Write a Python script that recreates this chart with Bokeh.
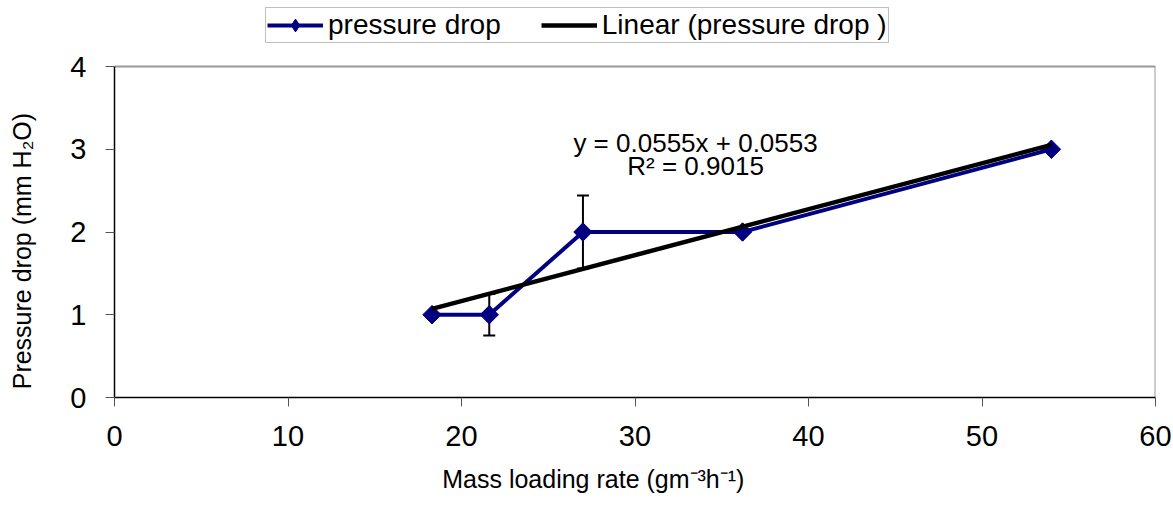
from bokeh.plotting import figure
from bokeh.models import (ColumnDataSource, Whisker, TeeHead, Legend, LegendItem,
                          Label, FixedTicker, Range1d)
from bokeh.embed import file_html
from bokeh.resources import INLINE
import numpy as np

# ---- data ----
mass_loading = [18.3, 21.6, 27.0, 36.2, 54.0]
pressure_drop = [1.0, 1.0, 2.0, 2.0, 3.0]
error = [0.0, 0.25, 0.44, 0.0, 0.0]
trend_slope = 0.0555
trend_intercept = 0.0553
r_squared = 0.9015
x_ticks = [0, 10, 20, 30, 40, 50, 60]
y_ticks = [0, 1, 2, 3, 4]
x_title = "Mass loading rate (gm\u207b\u00b3h\u207b\u00b9)"
y_title = "Pressure drop (mm H\u2082O)"

FONT = "Liberation Sans"
NAVY = "#000080"
NBSP = "\u00a0"

# plot box is 331 px tall for 0..4; frame extended upwards by 66 px to hold the legend
PLOT_H, TOP_PAD = 331, 66
y_top = y_ticks[-1] * (PLOT_H + TOP_PAD) / PLOT_H

p = figure(frame_width=1041, frame_height=PLOT_H + TOP_PAD, output_backend="svg",
           toolbar_location=None, x_range=Range1d(x_ticks[0], x_ticks[-1]),
           y_range=Range1d(y_ticks[0], y_top),
           min_border_left=114, min_border_right=18, min_border_top=0,
           min_border_bottom=108, background_fill_color="white",
           border_fill_color="white")
p.grid.visible = False
p.outline_line_color = None

for ax in (p.xaxis[0], p.yaxis[0]):
    ax.axis_line_color = "black"
    ax.axis_line_width = 1.5
    ax.major_tick_line_color = "#555555"
    ax.major_tick_out = 9
    ax.major_tick_in = 0
    ax.minor_tick_line_color = None
    ax.major_label_text_font = FONT
    ax.major_label_text_font_size = "29px"
    ax.major_label_text_color = "black"
    ax.major_label_standoff = 19
    ax.axis_label_text_font = FONT
    ax.axis_label_text_font_size = "25px"
    ax.axis_label_text_font_style = "normal"
    ax.axis_label_text_color = "black"

p.xaxis.ticker = FixedTicker(ticks=x_ticks)
p.yaxis.ticker = FixedTicker(ticks=y_ticks)
p.yaxis.bounds = (y_ticks[0], y_ticks[-1])

# axis titles: trailing no-break spaces shift them off-centre as in the reference
p.xaxis.axis_label = x_title + NBSP * 12
p.yaxis.axis_label = y_title + NBSP * 15
p.xaxis.axis_label_standoff = 16
p.yaxis.axis_label_standoff = 31

# plot-area border (top and right), grey like the reference
p.line([x_ticks[0], x_ticks[-1]], [y_ticks[-1], y_ticks[-1]], line_color="#999999", line_width=2)
p.line([x_ticks[-1], x_ticks[-1]], [y_ticks[0], y_ticks[-1]], line_color="#999999", line_width=2)

# error bars
ex = [x for x, e in zip(mass_loading, error) if e > 0]
ey = [y for y, e in zip(pressure_drop, error) if e > 0]
ee = [e for e in error if e > 0]
esrc = ColumnDataSource(dict(x=ex, upper=[y + e for y, e in zip(ey, ee)],
                             lower=[y - e for y, e in zip(ey, ee)]))
wh = Whisker(source=esrc, base="x", upper="upper", lower="lower",
             line_color="black", line_width=2, level="underlay",
             upper_head=TeeHead(size=12, line_color="black", line_width=2),
             lower_head=TeeHead(size=12, line_color="black", line_width=2))
p.add_layout(wh)

src = ColumnDataSource(dict(x=mass_loading, y=pressure_drop))
ln = p.line("x", "y", source=src, line_color=NAVY, line_width=4)
# diamond (used by the legend) sits under the rotated square markers
mk_leg = p.scatter("x", "y", source=src, marker="diamond", size=18,
                   fill_color=NAVY, line_color=NAVY)
mk = p.scatter("x", "y", source=src, marker="square", size=13, angle=np.pi / 4,
               fill_color=NAVY, line_color=NAVY)

tx = np.array([min(mass_loading), max(mass_loading)])
tl = p.line(tx, trend_slope * tx + trend_intercept, line_color="black", line_width=4.5)

p.add_layout(Label(x=33.49, y=3.078, text=f"y = {trend_slope}x + {trend_intercept}",
                   text_align="center", text_baseline="middle", text_font=FONT,
                   text_font_size="26px", text_color="black"))
p.add_layout(Label(x=33.49, y=2.795, text=f"R\u00b2 = {r_squared}",
                   text_align="center", text_baseline="middle", text_font=FONT,
                   text_font_size="26px", text_color="black"))

legend = Legend(items=[LegendItem(label="pressure drop", renderers=[ln, mk_leg]),
                       LegendItem(label="Linear (pressure drop )", renderers=[tl])],
                orientation="horizontal", location=(151, 354),
                label_text_font=FONT, label_text_font_size="28px",
                label_text_color="black", glyph_width=56, glyph_height=32,
                label_standoff=5, spacing=40, padding=1, margin=0,
                border_line_color="#808080", border_line_width=1.5,
                background_fill_alpha=1)
p.add_layout(legend, "center")

open("out.html", "w").write(file_html(p, INLINE))
